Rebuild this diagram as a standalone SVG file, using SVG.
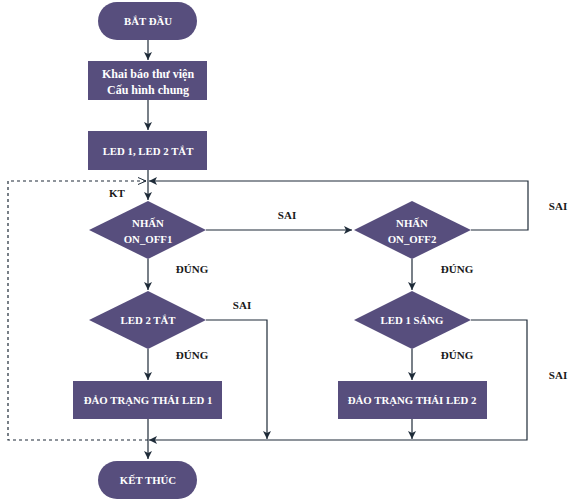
<svg xmlns="http://www.w3.org/2000/svg" width="578" height="501" viewBox="0 0 578 501">
<style>
.n{fill:#574E7D;}
.t{font-family:"Liberation Serif","DejaVu Serif",serif;font-weight:bold;font-size:12px;fill:#ffffff;text-anchor:middle;}
.u{font-size:10.8px;}
.l{font-family:"Liberation Serif","DejaVu Serif",serif;font-weight:bold;font-size:11px;fill:#1a1a1a;text-anchor:middle;}
.c{fill:none;stroke:#1E2B38;stroke-width:1.2;}
.d{stroke-dasharray:3,3;}
</style>
<defs>
<marker id="a" markerUnits="userSpaceOnUse" markerWidth="10" markerHeight="10" viewBox="0 0 10 10" refX="9" refY="5" orient="auto">
<path d="M1,1 L9,5 L1,9 L3,5 z" fill="#1E2B38"/>
</marker>
<marker id="o" markerUnits="userSpaceOnUse" markerWidth="10" markerHeight="10" viewBox="0 0 10 10" refX="9" refY="5" orient="auto">
<path d="M1,1.5 L9,5 L1,8.5" fill="none" stroke="#1E2B38" stroke-width="1"/>
</marker>
</defs>
<g id="connectors">
<path class="c" d="M148,40 V60" marker-end="url(#a)"/>
<path class="c" d="M148,100 V130" marker-end="url(#a)"/>
<path class="c" d="M148,170 V200" marker-end="url(#a)"/>
<path class="c d" d="M148,440 H8 V181 H146" marker-end="url(#o)"/>
<path class="c" d="M471,230 H528 V181 H149" marker-end="url(#a)"/>
<path class="c" d="M206,230 H352" marker-end="url(#a)"/>
<path class="c" d="M148,259 V290" marker-end="url(#a)"/>
<path class="c" d="M206,320 H267 V439" marker-end="url(#a)"/>
<path class="c" d="M148,349 V380" marker-end="url(#a)"/>
<path class="c" d="M148,419 V459" marker-end="url(#a)"/>
<path class="c" d="M412,259 V290" marker-end="url(#a)"/>
<path class="c" d="M471,320 H527 V440 H149" marker-end="url(#a)"/>
<path class="c" d="M412,349 V380" marker-end="url(#a)"/>
<path class="c" d="M412,419 V439" marker-end="url(#a)"/>
<text class="l" x="117" y="197">KT</text>
<text class="l" x="287" y="219">SAI</text>
<text class="l" x="192" y="273">ĐÚNG</text>
<text class="l" x="242" y="309">SAI</text>
<text class="l" x="192" y="359">ĐÚNG</text>
<text class="l" x="558" y="210">SAI</text>
<text class="l" x="457" y="273">ĐÚNG</text>
<text class="l" x="457" y="359">ĐÚNG</text>
<text class="l" x="558" y="379">SAI</text>
</g>
<g id="start">
<rect class="n" x="98" y="2" width="99" height="38" rx="19"/>
<text class="t u" x="148" y="25">BẮT ĐẦU</text>
</g>
<g id="init">
<rect class="n" x="88" y="61" width="119" height="39"/>
<text class="t" x="148" y="78">Khai báo thư viện</text>
<text class="t" x="148" y="94">Cấu hình chung</text>
</g>
<g id="ledsoff">
<rect class="n" x="88" y="131" width="119" height="39"/>
<text class="t u" x="148" y="155">LED 1, LED 2 TẮT</text>
</g>
<g id="btn1">
<path class="n" d="M148,201 L206,230 L148,259 L89,230 Z"/>
<text class="t u" x="148" y="227">NHẤN</text>
<text class="t u" x="148" y="243">ON_OFF1</text>
</g>
<g id="led2off">
<path class="n" d="M148,291 L206,320 L148,349 L89,320 Z"/>
<text class="t u" x="148" y="324">LED 2 TẮT</text>
</g>
<g id="toggle1">
<rect class="n" x="73" y="381" width="149" height="38"/>
<text class="t u" x="148" y="404">ĐẢO TRẠNG THÁI LED 1</text>
</g>
<g id="btn2">
<path class="n" d="M412,201 L471,230 L412,259 L354,230 Z"/>
<text class="t u" x="412" y="227">NHẤN</text>
<text class="t u" x="412" y="243">ON_OFF2</text>
</g>
<g id="led1on">
<path class="n" d="M412,291 L471,320 L412,349 L354,320 Z"/>
<text class="t u" x="412" y="324">LED 1 SÁNG</text>
</g>
<g id="toggle2">
<rect class="n" x="338" y="381" width="149" height="38"/>
<text class="t u" x="412" y="404">ĐẢO TRẠNG THÁI LED 2</text>
</g>
<g id="end">
<rect class="n" x="98" y="461" width="99" height="38" rx="19"/>
<text class="t u" x="148" y="484">KẾT THÚC</text>
</g>
</svg>
